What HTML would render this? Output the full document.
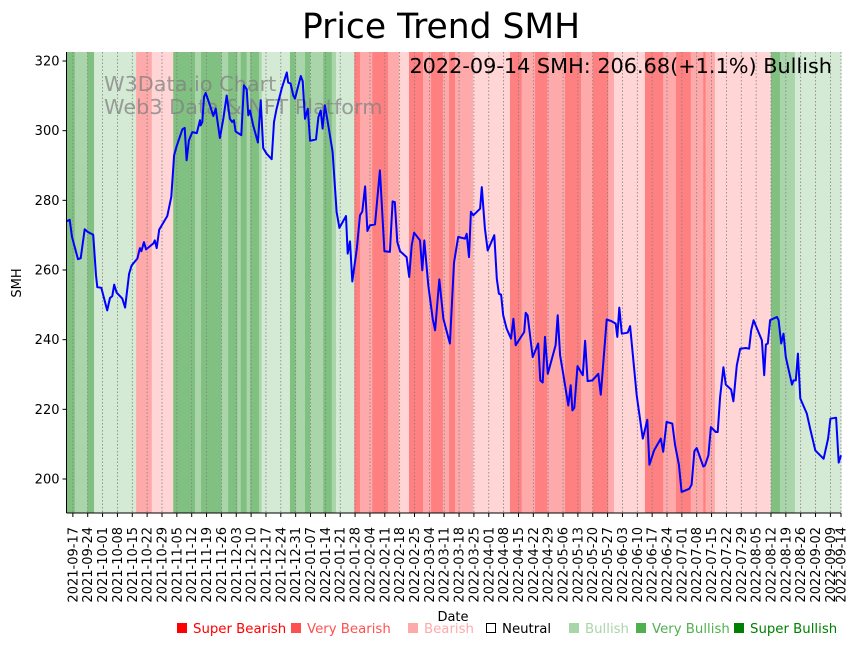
<!DOCTYPE html>
<html><head><meta charset="utf-8"><style>
html,body{margin:0;padding:0;background:#fff;}
svg{display:block;font-family:"DejaVu Sans","Liberation Sans",sans-serif;}
</style></head><body>
<svg id="chart" width="859" height="646" viewBox="0 0 859 646" xmlns="http://www.w3.org/2000/svg">
<text x="441" y="38" text-anchor="middle" font-size="34.5">Price Trend SMH</text>
<g id="bands"></g>
<g id="grid"></g>
<g fill="#808080" fill-opacity="0.75" font-size="20.8">
<text x="104" y="91">W3Data.io Chart</text>
<text x="104" y="114">Web3 Data &amp; NFT Platform</text>
</g>
<path id="line" fill="none" stroke="#0000ff" stroke-width="2" stroke-linejoin="round"/>
<text x="832" y="73" text-anchor="end" font-size="20.8">2022-09-14 SMH: 206.68(+1.1%) Bullish</text>
<g id="axes"></g>
<text transform="translate(21,283) rotate(-90)" text-anchor="middle" font-size="13">SMH</text>
<text x="453" y="621" text-anchor="middle" font-size="13">Date</text>
<g font-size="13.3">
<g><rect x="177" y="623" width="10" height="10" fill="#ff0000"/><text x="193" y="633" fill="#ff0000">Super Bearish</text></g>
<g><rect x="291" y="623" width="10" height="10" fill="#ff5050"/><text x="307" y="633" fill="#ff5050">Very Bearish</text></g>
<g><rect x="408" y="623" width="10" height="10" fill="#ffaaaa"/><text x="424" y="633" fill="#ffaaaa">Bearish</text></g>
<g><rect x="486.5" y="623.5" width="9" height="9" fill="#fff" stroke="#000"/><text x="502" y="633" fill="#000">Neutral</text></g>
<g><rect x="569" y="623" width="10" height="10" fill="#aad5aa"/><text x="585" y="633" fill="#aad5aa">Bullish</text></g>
<g><rect x="636" y="623" width="10" height="10" fill="#50b050"/><text x="652" y="633" fill="#50b050">Very Bullish</text></g>
<g><rect x="734" y="623" width="10" height="10" fill="#008000"/><text x="750" y="633" fill="#008000">Super Bullish</text></g>
</g>
</svg>
<script>
// Data: day offsets from 2021-09-14
const days = [0.1,1.5,2.6,5.4,6.7,8.6,10.1,12.6,13.9,14.5,16.4,19.2,20.5,21.6,22.5,23.6,26.3,27.6,29.5,30.7,33.4,34.6,35.3,36.5,37.5,40.9,41.6,42.5,43.7,47.5,49.4,50.7,51.9,54.6,55.7,56.6,57.7,59.3,61.4,62.9,63.2,64.0,64.8,65.6,67.6,69.2,70.3,72.3,73.9,75.5,77.0,78.1,78.9,79.7,82.4,83.6,84.9,85.7,86.5,88.0,90.2,91.5,92.7,94.3,96.7,97.8,99.0,101.4,103.8,104.5,105.6,106.9,107.7,110.4,111.3,112.4,113.7,114.8,117.6,118.7,119.8,120.7,121.8,123.4,125.4,127.3,128.6,131.7,132.5,133.6,134.7,136.8,138.3,139.4,140.7,141.8,143.0,145.4,147.7,149.8,152.4,153.7,154.7,155.9,157.2,160.3,161.5,162.7,163.8,166.6,167.7,168.6,170.5,172.6,173.7,175.7,177.6,180.7,182.6,184.6,187.8,188.6,189.7,190.6,191.7,194.9,195.7,197.2,198.5,201.6,202.8,203.8,204.8,205.8,207.4,209.5,210.6,211.7,215.7,216.4,217.3,219.7,222.3,223.3,224.4,225.5,226.8,230.5,231.5,232.6,234.1,236.5,237.6,238.4,239.3,240.8,243.3,244.4,245.6,247.8,250.6,251.8,254.6,256.9,258.8,259.6,260.5,261.7,264.5,265.6,268.7,271.6,273.7,274.7,276.9,280.1,281.2,282.8,285.5,286.8,288.6,289.9,293.5,294.6,295.9,297.0,300.1,300.9,302.5,303.7,306.0,306.9,308.0,309.6,310.7,313.2,314.3,315.9,317.5,320.1,321.7,322.7,323.8,327.7,328.8,329.6,330.5,331.6,334.8,335.6,336.8,337.9,339.0,341.9,342.6,343.7,344.7,345.8,348.9,350.5,352.9,356.8,358.9,360.0,362.7,363.9,365.0];
const prices = [274.0,274.4,269.5,263.1,263.4,271.7,270.9,270.1,258.5,255.1,254.9,248.4,252.0,252.5,255.8,253.5,251.8,249.2,258.9,261.3,263.3,266.3,265.4,268.0,265.9,267.6,268.5,266.3,271.6,275.5,281.0,292.9,295.5,300.4,300.8,291.5,297.2,299.6,299.3,303.0,301.5,302.5,309.7,310.8,307.3,304.2,306.3,297.9,303.4,310.1,303.4,302.5,303.0,299.8,298.7,313.0,311.9,304.4,305.8,301.5,296.6,308.7,295.0,293.4,291.8,302.5,306.3,312.1,316.7,313.8,313.5,310.1,309.2,315.7,314.2,303.4,306.3,297.1,297.5,303.9,305.8,300.6,307.3,301.5,293.9,276.7,272.1,275.5,264.7,268.2,256.7,266.1,275.7,276.8,284.0,271.2,272.8,273.1,288.6,265.4,265.2,279.7,279.5,268.0,265.4,263.7,258.0,267.1,270.7,268.5,259.9,268.5,255.6,246.0,242.7,257.3,246.0,238.9,262.1,269.5,269.0,270.4,263.7,276.7,275.7,277.6,283.8,271.9,265.6,270.0,257.5,253.2,252.9,247.0,243.2,240.3,246.0,238.4,242.2,247.7,247.0,235.0,238.9,228.3,227.7,240.8,230.2,238.4,247.0,235.5,230.2,221.1,226.9,219.7,220.4,232.4,229.8,239.7,228.1,228.3,230.2,224.2,245.8,245.3,244.6,240.8,249.2,241.7,242.0,243.9,224.0,211.6,217.0,204.1,208.2,211.6,207.8,216.4,215.9,209.7,204.1,196.3,197.2,198.4,208.0,208.9,203.6,203.9,206.8,214.9,213.5,213.5,223.5,232.1,227.1,225.7,222.3,232.6,237.4,237.6,237.4,242.7,245.6,239.8,229.8,238.6,238.9,245.6,246.5,245.6,238.9,241.7,235.0,227.1,228.3,228.3,236.0,223.1,218.8,214.4,208.2,205.8,211.6,217.3,217.6,204.7,206.8];
// Sentiment regimes: end day of each band and its level (3 super bull ... -3 super bear)
const bandEnds = [3.9,9.8,13.0,32.8,40.2,50.3,60.6,63.4,73.1,76.2,80.5,82.1,84.9,86.5,90.7,92.0,105.3,108.0,112.4,114.8,121.0,125.0,127.0,135.6,138.3,144.1,151.5,156.8,161.4,168.0,171.8,177.4,180.3,183.1,191.6,209.0,214.5,220.8,226.6,234.9,242.5,248.0,255.3,258.0,272.6,281.2,287.2,294.2,300.1,301.2,305.6,332.0,336.2,343.3,365];
const bandLevels = [3,2,3,1,-2,-1,3,2,3,2,3,2,3,2,3,2,1,3,2,3,2,3,2,1,-3,-2,-3,-2,-1,-3,-2,-3,-2,-3,-2,-1,-3,-2,-3,-2,-3,-2,-3,-2,-1,-3,-2,-3,-2,-3,-2,-1,3,2,1];
const yTicks = [200,220,240,260,280,300,320];

const NS = "http://www.w3.org/2000/svg";
const X0 = 66.5, X1 = 841, Y0 = 52, Y1 = 513;
const DMAX = 365;
const x = d => X0 + (d / DMAX) * (X1 - X0);
const y = v => 61 + (320 - v) * (418 / 120);
const colors = {"3":"#80c080","2":"#aad5aa","1":"#d5ead5","-1":"#ffd5d5","-2":"#ffaaaa","-3":"#ff8080"};
const start = Date.UTC(2021, 8, 14);
const fmt = d => new Date(start + d * 86400000).toISOString().slice(0, 10);

function mk(tag, attrs, parent) {
  const e = document.createElementNS(NS, tag);
  for (const k in attrs) e.setAttribute(k, attrs[k]);
  parent.appendChild(e);
  return e;
}

const bands = document.getElementById('bands');
let prev = 0;
bandEnds.forEach((end, i) => {
  const r = mk('rect', {x: x(prev), y: Y0, width: Math.max(0, x(end) - x(prev)) + 0.3, height: Y1 - Y0, fill: colors[bandLevels[i]]}, bands);
  
  
  prev = end;
});

const grid = document.getElementById('grid');
const axes = document.getElementById('axes');
const tickDays = [];
for (let d = 3; d <= 360; d += 7) tickDays.push(d);
tickDays.push(365);
tickDays.forEach(d => {
  const gl = mk('line', {x1: x(d), x2: x(d), y1: Y0, y2: Y1, stroke: '#808080', 'stroke-width': 0.8, 'stroke-dasharray': '1.5,2'}, grid);
  
  
  const t = mk('line', {x1: x(d), x2: x(d), y1: Y1, y2: Y1 + 4, stroke: '#000', 'stroke-width': 1}, axes);
  
  
  const lb = mk('text', {transform: `translate(${x(d) + 4.5},${Y1 + 14}) rotate(-90)`, 'text-anchor': 'end', 'font-size': 13}, axes);
  
  
  lb.textContent = fmt(d);
});
yTicks.forEach(v => {
  const t = mk('line', {x1: X0 - 4, x2: X0, y1: y(v), y2: y(v), stroke: '#000'}, axes);
  
  
  const lb = mk('text', {x: X0 - 7, y: y(v) + 4.5, 'text-anchor': 'end', 'font-size': 13}, axes);
  
  
  lb.textContent = v;
});
const sl = mk('line', {x1: X0, x2: X0, y1: Y0, y2: Y1, stroke: '#000'}, axes);


const sb = mk('line', {x1: X0, x2: X1, y1: Y1, y2: Y1, stroke: '#000'}, axes);



document.getElementById('line').setAttribute('d', days.map((d, i) => (i ? 'L' : 'M') + x(d).toFixed(1) + ',' + y(prices[i]).toFixed(1)).join(''));
</script>
</body></html>
